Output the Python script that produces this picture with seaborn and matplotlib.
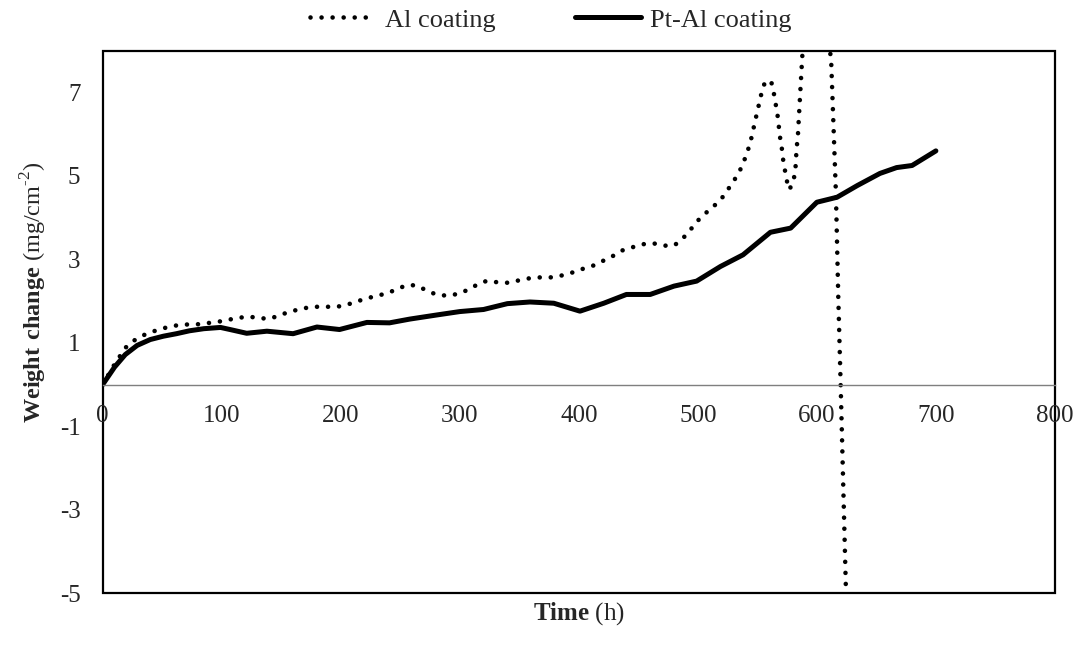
import matplotlib
matplotlib.use("Agg")
import matplotlib.pyplot as plt
import seaborn as sns
import pandas as pd

# Al coating (dotted), weight change in mg/cm2
al_time = [0, 9, 14, 19, 26, 34, 42, 51, 60, 69, 78, 87, 96, 105, 114, 123, 132, 141, 149, 158,
           167, 176, 185, 194, 203, 211, 220, 229, 238, 246, 255, 263, 272, 280, 289, 298, 306, 315,
           323, 332, 341, 350, 359, 368, 377, 385, 394, 403, 412, 420, 428, 436, 445, 453, 462, 471,
           480, 487, 493, 499, 505, 512, 519, 524, 529, 534, 538, 541, 544, 546, 548, 550, 552, 554,
           557, 562, 564, 565.5, 567, 568, 569, 570.5, 571.5, 573, 574.5, 577, 580.5, 582, 582.5, 583,
           584, 584.5, 585, 585.5, 586, 586.5, 587, 587.5, 588, 595, 600, 606, 611, 612, 616, 618,
           620, 624.5, 626]
al_gain = [0, 0.44, 0.66, 0.88, 1.05, 1.18, 1.27, 1.35, 1.41, 1.44, 1.44, 1.47, 1.50, 1.55, 1.60, 1.63,
           1.59, 1.58, 1.67, 1.75, 1.82, 1.86, 1.87, 1.86, 1.89, 1.97, 2.05, 2.12, 2.18, 2.27, 2.38,
           2.38, 2.26, 2.16, 2.13, 2.17, 2.26, 2.40, 2.49, 2.45, 2.44, 2.50, 2.55, 2.57, 2.57, 2.61,
           2.68, 2.77, 2.85, 2.96, 3.07, 3.21, 3.29, 3.36, 3.39, 3.33, 3.33, 3.49, 3.68, 3.90, 4.07,
           4.24, 4.42, 4.62, 4.83, 5.05, 5.29, 5.53, 5.78, 6.04, 6.29, 6.55, 6.79, 7.05, 7.29, 7.22,
           6.96, 6.71, 6.45, 6.20, 5.94, 5.68, 5.42, 5.17, 4.91, 4.67, 4.90, 5.16, 5.41, 5.67, 5.92,
           6.19, 6.45, 6.71, 6.97, 7.22, 7.48, 7.73, 7.98, 9.5, 10.0, 9.5, 8.0, 7.78, 4.6, 2.1,
           0.0, -5.0, -5.5]

# Pt-Al coating (solid)
ptal_time = [0, 10, 19, 29, 40, 51, 62, 73, 85, 99, 107, 121, 138, 160, 180, 199, 222, 241, 258, 281,
             300, 320, 340, 359, 379, 401, 421, 440, 460, 480, 499, 519, 538, 561, 578, 600, 617, 634,
             653, 667, 680, 700]
ptal_gain = [0, 0.42, 0.72, 0.94, 1.08, 1.16, 1.22, 1.29, 1.34, 1.37, 1.32, 1.23, 1.28, 1.22, 1.38,
             1.32, 1.49, 1.48, 1.57, 1.67, 1.75, 1.80, 1.94, 1.98, 1.95, 1.76, 1.95, 2.16, 2.16, 2.36,
             2.48, 2.83, 3.11, 3.65, 3.75, 4.37, 4.49, 4.77, 5.06, 5.20, 5.25, 5.60]

x_ticks = [0, 100, 200, 300, 400, 500, 600, 700, 800]
y_ticks = [-5, -3, -1, 1, 3, 5, 7]

sns.set_style("white")
plt.rcParams['font.family'] = ['Liberation Serif', 'DejaVu Serif']
plt.rcParams['mathtext.fontset'] = 'custom'
plt.rcParams['mathtext.rm'] = 'Liberation Serif'
plt.rcParams['mathtext.bf'] = 'Liberation Serif:bold'
plt.rcParams['axes.unicode_minus'] = False

al = pd.DataFrame({"time": al_time, "gain": al_gain})
ptal = pd.DataFrame({"time": ptal_time, "gain": ptal_gain})

fig = plt.figure(figsize=(10.76, 6.47), dpi=100)
ax = fig.add_axes([0.0954, 0.083, 0.8850, 0.8386])

sns.lineplot(data=al, x="time", y="gain", sort=False, ax=ax, color="black", lw=3.3,
             linestyle=(0, (0.01, 2.4)), dash_capstyle="round", label="Al coating")
sns.lineplot(data=ptal, x="time", y="gain", sort=False, ax=ax, color="black", lw=3.6,
             label="Pt-Al coating")

ax.set_xlim(0, 800)
ax.set_ylim(-5, 8)
ax.set_xticks(x_ticks)
ax.set_yticks(y_ticks)

# frame around the plot, x axis sits on the zero line
ax.patch.set_edgecolor("black")
ax.patch.set_linewidth(1.6)
for s in ["top", "right", "left"]:
    ax.spines[s].set_visible(False)
ax.spines["bottom"].set_position(("data", 0))
ax.spines["bottom"].set_color("#7f7f7f")
ax.spines["bottom"].set_linewidth(1.0)

ax.tick_params(axis="x", direction="in", length=6, width=1, color="#7f7f7f", pad=15, labelsize=18)
ax.tick_params(axis="y", direction="in", length=5, width=1, color="#7f7f7f", pad=16, labelsize=18)

ax.set_xlabel(r"$\mathbf{Time}$ (h)", fontsize=18)
ax.xaxis.set_label_coords(0.5, -0.012)
ax.xaxis.label.set_va("top")
ax.set_ylabel(r"$\mathbf{Weight\ change}$ (mg/cm$^{\text{-2}}$)", fontsize=17.5)
ax.yaxis.set_label_coords(-0.056, 0.555)

ax.legend(loc="upper center", bbox_to_anchor=(0.512, 1.012), bbox_transform=fig.transFigure,
          ncol=2, frameon=False, fontsize=19, handlelength=2.5, handletextpad=0.35,
          columnspacing=3.0, borderpad=0.1)

fig.savefig("out.png", dpi=100)
